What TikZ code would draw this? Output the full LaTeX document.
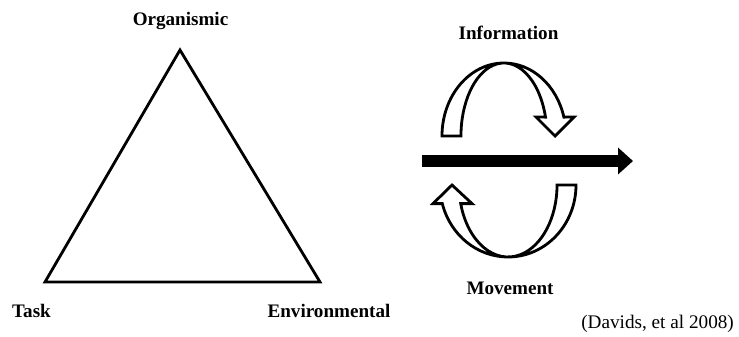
\documentclass[tikz,border=0pt]{standalone}
\usepackage{fontspec}
\setmainfont{Liberation Serif}
\usetikzlibrary{arrows.meta}

\begin{document}
\begin{tikzpicture}[x=0.03cm,y=-0.03cm,
    lbl/.style={anchor=base,font=\fontsize{16.3}{19}\selectfont\bfseries},
    loop/.style={draw,fill=white,line width=2.4pt,line join=miter}]
		\useasboundingbox (0,0) rectangle (739,336);

		% the triangle
		\coordinate (apex) at (180,50);
		\coordinate (lowleft) at (45,282);
		\coordinate (lowright) at (320,282);
		\draw[line width=2.4pt]  (apex)
		  -- (lowleft)
		  -- (lowright)
		  -- cycle;
		\node[lbl] (org) at (180.5,25) {Organismic};
		\node[lbl] (task) at (31.5,317) {Task};
		\node[lbl] (env) at (329,317) {Environmental};

		% the two turning arrows
		\path[loop] (442,136)
		  arc[start angle=180,end angle=15,x radius=1.86cm,y radius=2.19cm]
		  -- (574,117) -- (555,136) -- (536,117) -- (545.5,117.1)
		  arc[start angle=15,end angle=180,x radius=1.29cm,y radius=2.19cm]
		  -- cycle;
		\path[loop] (576,185)
		  arc[start angle=0,end angle=-165,x radius=2.04cm,y radius=2.16cm]
		  -- (433,203.6) -- (452,185) -- (472,203.6) -- (460.7,203.6)
		  arc[start angle=-165,end angle=0,x radius=1.47cm,y radius=2.16cm]
		  -- cycle;
		\node[lbl] (info) at (508.5,39) {Information};
		\node[lbl] (move) at (510,294) {Movement};

		% the long arrow
		\coordinate (flowstart) at (422,161);
		\coordinate (flowend) at (633,161);
		\draw[line width=0.36cm,-{Triangle[length=0.45cm,width=0.78cm]}] (flowstart) -- (flowend);

		\node[anchor=base east,font=\fontsize{16.4}{19}\selectfont] (src) at (738,328) {(Davids, et al 2008)};
\end{tikzpicture}
\end{document}
